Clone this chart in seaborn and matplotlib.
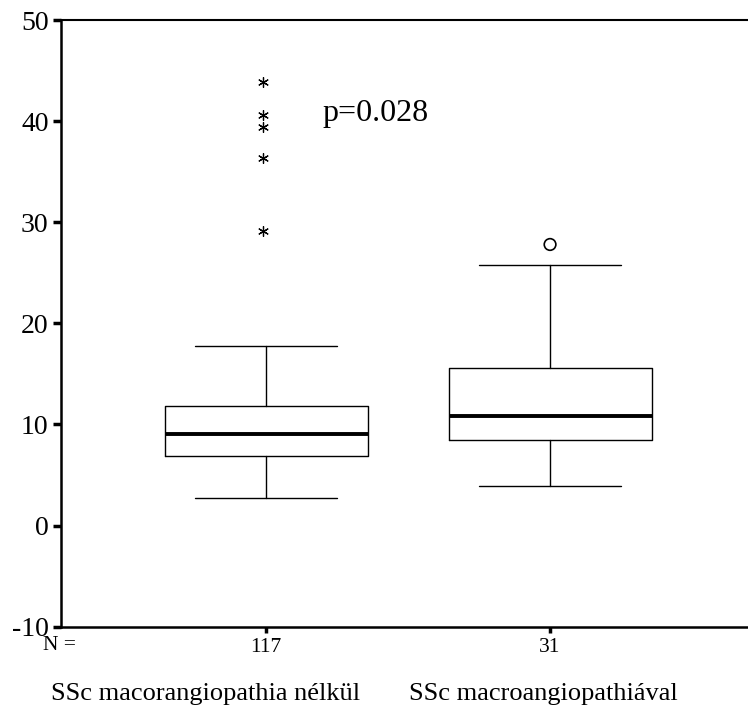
import matplotlib
matplotlib.use("Agg")
import matplotlib.pyplot as plt
import seaborn as sns

# values
groups = ["SSc macorangiopathia nélkül", "SSc macroangiopathiával"]
n_counts = [117, 31]
q1 = [6.9, 8.5]
medians = [9.05, 10.8]
q3 = [11.8, 15.6]
whisker_low = [2.7, 3.9]
whisker_high = [17.8, 25.8]
extremes = [[29.1, 36.4, 39.4, 40.6, 43.9], []]
outliers = [[], [27.8]]
p_text = "p=0.028"

sns.set_theme(style="white")
plt.rcParams["font.family"] = ["Liberation Serif", "DejaVu Serif"]
plt.rcParams["axes.unicode_minus"] = False
plt.rcParams["text.color"] = "black"
plt.rcParams["xtick.color"] = "black"
plt.rcParams["ytick.color"] = "black"

fig = plt.figure(figsize=(7.48, 7.07), dpi=100)
ax = fig.add_axes([61 / 748, 1 - 626.7 / 707, 1 - 61 / 748, (626.7 - 20) / 707])

stats = []
for i, g in enumerate(groups):
    stats.append({"label": g, "q1": q1[i], "med": medians[i], "q3": q3[i],
                  "whislo": whisker_low[i], "whishi": whisker_high[i], "fliers": []})

positions = list(range(len(groups)))
ax.bxp(stats, positions=positions, widths=0.715, capwidths=0.5, showfliers=False,
       manage_ticks=False,
       boxprops=dict(color="black", linewidth=1.0),
       whiskerprops=dict(color="black", linewidth=1.0),
       capprops=dict(color="black", linewidth=1.0),
       medianprops=dict(color="black", linewidth=2.8))

# SPSS style: extremes as stars, outliers as open circles
for i in positions:
    if extremes[i]:
        ax.scatter([i - 0.01] * len(extremes[i]), extremes[i], marker=(6, 2, 0),
                   s=50, color="black", linewidths=0.9, zorder=3)
    if outliers[i]:
        ax.scatter([i] * len(outliers[i]), outliers[i], marker="o", s=70,
                   facecolors="none", edgecolors="black", linewidths=1.2, zorder=3)

ax.text(0.197, 40.0, p_text, fontsize=23, ha="left", va="baseline", color="black")

ax.set_xlim(-0.722, 1.697)
ax.set_ylim(-10, 50)
ax.set_yticks([-10, 0, 10, 20, 30, 40, 50])
ax.set_xticks(positions)
ax.set_xticklabels([str(n) for n in n_counts], fontsize=15.5)
ax.tick_params(axis="y", direction="out", length=6, width=2.5, pad=3, labelsize=20,
               left=True, colors="black")
ax.tick_params(axis="x", direction="out", length=4, width=2.5, pad=4, bottom=True,
               colors="black")
for side in ["left", "bottom", "top"]:
    ax.spines[side].set_visible(True)
    ax.spines[side].set_color("black")
ax.spines["left"].set_linewidth(1.8)
ax.spines["bottom"].set_linewidth(1.8)
ax.spines["top"].set_linewidth(1.5)
ax.spines["right"].set_visible(False)
ax.grid(False)

fig.text(43 / 748, 1 - 645 / 707, "N =", fontsize=15.5, ha="left", va="center")
fig.text(51 / 748, 1 - 700 / 707, groups[0], fontsize=19, ha="left", va="baseline")
fig.text(409 / 748, 1 - 700 / 707, groups[1], fontsize=19, ha="left", va="baseline")

fig.savefig("out.png", dpi=100, facecolor="white")
